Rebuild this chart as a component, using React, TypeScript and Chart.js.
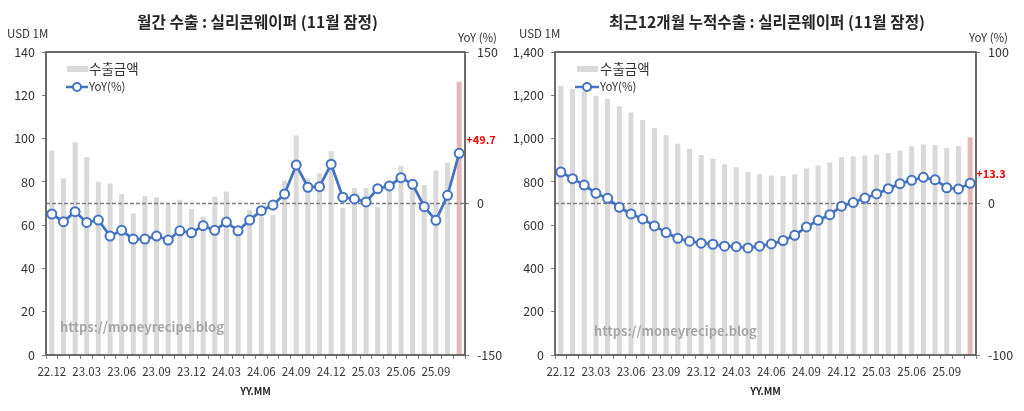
import { useEffect, useRef } from 'react';
import { Chart, registerables } from 'chart.js';
Chart.register(...registerables);

const FONT = "'Noto Sans CJK KR', 'Noto Sans', sans-serif";

const MONTHS = [
  '22.12',
  '23.01', '23.02', '23.03', '23.04', '23.05', '23.06', '23.07', '23.08', '23.09', '23.10', '23.11', '23.12',
  '24.01', '24.02', '24.03', '24.04', '24.05', '24.06', '24.07', '24.08', '24.09', '24.10', '24.11', '24.12',
  '25.01', '25.02', '25.03', '25.04', '25.05', '25.06', '25.07', '25.08', '25.09', '25.10', '25.11',
];

// Monthly exports (USD 1M)
const MONTHLY_EXPORT = [
  94.5, 81.7, 98.3, 91.5, 80.1, 79.2, 74.4, 65.5, 73.3, 72.9, 69.8, 71.7,
  67.5, 64.0, 73.1, 75.5, 58.0, 67.0, 64.0, 64.9, 80.6, 101.4, 81.7, 84.0,
  94.1, 68.0, 77.2, 77.2, 68.3, 80.0, 87.5, 80.0, 78.6, 85.2, 88.9, 126.2,
];
// Monthly YoY (%)
const MONTHLY_YOY = [
  -10.4, -18.0, -8.1, -18.7, -16.4, -32.2, -26.6, -35.2, -35.2, -32.2, -36.2, -27.0,
  -29.0, -22.0, -26.6, -18.4, -27.0, -16.4, -7.1, -1.5, 9.4, 38.2, 16.1, 16.7,
  38.9, 6.2, 4.5, 1.5, 14.7, 17.4, 25.6, 19.0, -3.2, -16.7, 8.1, 49.7,
];

// Trailing 12-month cumulative exports (USD 1M)
const CUM_EXPORT = [
  1244, 1229, 1218, 1198, 1184, 1149, 1121, 1086, 1049, 1015, 976, 953,
  924, 907, 881, 867, 846, 835, 829, 827, 835, 862, 876, 889,
  915, 918, 922, 926, 933, 944, 964, 973, 970, 958, 966, 1006,
];
// Trailing 12-month YoY (%)
const CUM_YOY = [
  20.8, 16.4, 12.2, 6.7, 3.4, -2.5, -6.9, -10.2, -14.8, -19.2, -23.0, -24.9,
  -26.2, -26.9, -28.2, -28.5, -29.3, -28.2, -26.7, -24.5, -21.0, -15.5, -11.1, -7.4,
  -1.8, 0.6, 3.6, 6.3, 9.8, 13.1, 15.3, 17.3, 15.7, 10.4, 9.6, 13.3,
];

const LEFT_TICKS_MONTHLY = { min: 0, max: 140, step: 20 };
const RIGHT_TICKS_MONTHLY = { min: -150, max: 150, step: 150 };
const LEFT_TICKS_CUM = { min: 0, max: 1400, step: 200 };
const RIGHT_TICKS_CUM = { min: -100, max: 100, step: 100 };

const TITLE_MONTHLY = '월간 수출 : 실리콘웨이퍼 (11월 잠정)';
const TITLE_CUM = '최근12개월 누적수출 : 실리콘웨이퍼 (11월 잠정)';
const LABEL_MONTHLY = '+49.7';
const LABEL_CUM = '+13.3';

const GREY = '#d9d9d9';
const PINK = '#e6b9b8';
const BLUE = '#4472c4';
const TEXT = '#333333';

type Spec = {
  title: string; titleCx: number; titleW: number;
  bars: number[]; yoy: number[];
  left: { min: number; max: number; step: number };
  right: { min: number; max: number; step: number };
  yWidth: number; y1Width: number; comma: boolean;
  yoyRight: number;
  lg: { rectX: number; textX: number; lineX1: number; lineX2: number; circleX: number };
  wmX: number; wmY: number; wmW: number;
  xTitleCx: number;
  lastLabel: string; labelDx: number; labelDy: number;
};

function fitFont(ctx: CanvasRenderingContext2D, text: string, weight: string, targetW: number) {
  ctx.font = `${weight} 14px ${FONT}`;
  const w = ctx.measureText(text).width;
  const size = (14 * targetW) / w;
  ctx.font = `${weight} ${size}px ${FONT}`;
}

function makePlugin(spec: Spec) {
  return {
    id: 'overlay',
    afterDatasetDraw(chart: any, args: any) {
      if (args.index !== 1) return;
      const { ctx, chartArea } = chart;
      const y = chart.scales.y1.getPixelForValue(0);
      ctx.save();
      ctx.strokeStyle = '#7f7f7f';
      ctx.lineWidth = 1.5;
      ctx.setLineDash([4, 2]);
      ctx.beginPath();
      ctx.moveTo(chartArea.left, y);
      ctx.lineTo(chartArea.right, y);
      ctx.stroke();
      ctx.restore();
    },
    afterDraw(chart: any) {
      const { ctx, chartArea } = chart;
      ctx.save();
      // plot box
      ctx.strokeStyle = '#595959';
      ctx.lineWidth = 1.75;
      ctx.strokeRect(chartArea.left, chartArea.top, chartArea.right - chartArea.left, chartArea.bottom - chartArea.top);

      ctx.textBaseline = 'middle';
      // title
      ctx.fillStyle = '#262626';
      fitFont(ctx, spec.title, 'bold', spec.titleW);
      ctx.textAlign = 'center';
      ctx.fillText(spec.title, spec.titleCx, 22.5);

      // unit labels
      ctx.fillStyle = TEXT;
      ctx.font = `11.5px ${FONT}`;
      ctx.textAlign = 'left';
      ctx.fillText('USD 1M', 7, 34);
      ctx.textAlign = 'right';
      ctx.fillText('YoY (%)', spec.yoyRight, 38);

      // x axis title
      ctx.font = `bold 10px ${FONT}`;
      ctx.textAlign = 'center';
      ctx.fillStyle = '#262626';
      ctx.fillText('YY.MM', spec.xTitleCx, 391);

      // legend
      const lg = spec.lg;
      ctx.fillStyle = GREY;
      ctx.fillRect(lg.rectX, 66, 21, 6);
      ctx.fillStyle = TEXT;
      ctx.textAlign = 'left';
      ctx.font = `13.5px ${FONT}`;
      ctx.fillText('수출금액', lg.textX, 69);
      ctx.strokeStyle = BLUE;
      ctx.lineWidth = 2.5;
      ctx.beginPath();
      ctx.moveTo(lg.lineX1, 87);
      ctx.lineTo(lg.lineX2, 87);
      ctx.stroke();
      ctx.beginPath();
      ctx.arc(lg.circleX, 87, 4, 0, Math.PI * 2);
      ctx.fillStyle = '#ffffff';
      ctx.fill();
      ctx.lineWidth = 2;
      ctx.stroke();
      ctx.fillStyle = TEXT;
      ctx.font = `11.5px ${FONT}`;
      ctx.fillText('YoY(%)', lg.textX, 87);

      // watermark
      ctx.fillStyle = '#a6a6a6';
      fitFont(ctx, 'https://moneyrecipe.blog', 'bold', spec.wmW);
      ctx.textAlign = 'left';
      ctx.fillText('https://moneyrecipe.blog', spec.wmX, spec.wmY);

      // last value label
      const meta = chart.getDatasetMeta(0);
      const pt = meta.data[meta.data.length - 1];
      ctx.fillStyle = '#ff0000';
      ctx.font = `bold 11px ${FONT}`;
      ctx.textAlign = 'left';
      ctx.fillText(spec.lastLabel, pt.x + spec.labelDx, pt.y + spec.labelDy);
      ctx.restore();
    },
  };
}

function makeConfig(spec: Spec): any {
  const last = spec.bars.length - 1;
  return {
    type: 'bar',
    data: {
      labels: MONTHS,
      datasets: [
        {
          type: 'line',
          label: 'YoY(%)',
          data: spec.yoy,
          yAxisID: 'y1',
          order: 1,
          borderColor: BLUE,
          borderWidth: 2.75,
          pointRadius: 4.5,
          pointBorderWidth: 2,
          pointBackgroundColor: '#ffffff',
          pointBorderColor: BLUE,
          tension: 0,
        },
        {
          type: 'bar',
          label: '수출금액',
          data: spec.bars,
          yAxisID: 'y',
          order: 2,
          backgroundColor: spec.bars.map((_, i) => (i === last ? PINK : GREY)),
          categoryPercentage: 1,
          barPercentage: 0.43,
        },
      ],
    },
    options: {
      responsive: false,
      animation: false,
      layout: { padding: { top: 52, left: 0, right: 0, bottom: 0 } },
      plugins: { legend: { display: false }, title: { display: false }, tooltip: { enabled: false } },
      scales: {
        x: {
          type: 'category',
          offset: true,
          grid: { display: true, drawOnChartArea: false, drawTicks: true, tickLength: 4, color: '#808080', offset: true },
          border: { display: false },
          ticks: {
            autoSkip: false,
            maxRotation: 0,
            minRotation: 0,
            padding: 6,
            color: TEXT,
            font: { size: 11.5, family: FONT },
            callback: (_v: any, i: number) => (i % 3 === 0 ? MONTHS[i] : ''),
          },
          afterFit: (s: any) => { s.height = 56; },
        },
        y: {
          position: 'left',
          min: spec.left.min,
          max: spec.left.max,
          grid: { display: true, drawOnChartArea: false, drawTicks: true, tickLength: 4, color: '#808080' },
          border: { display: false },
          ticks: {
            stepSize: spec.left.step,
            padding: 7,
            color: TEXT,
            font: { size: 12.5, family: FONT },
            callback: (v: number) => (spec.comma ? v.toLocaleString('en-US') : String(v)),
          },
          afterFit: (s: any) => { s.width = spec.yWidth; },
        },
        y1: {
          position: 'right',
          min: spec.right.min,
          max: spec.right.max,
          grid: { display: true, drawOnChartArea: false, drawTicks: true, tickLength: 4, color: '#808080' },
          border: { display: false },
          ticks: {
            stepSize: spec.right.step,
            padding: 8,
            color: TEXT,
            font: { size: 12.5, family: FONT },
          },
          afterFit: (s: any) => { s.width = spec.y1Width; },
        },
      },
    },
    plugins: [makePlugin(spec)],
  };
}

const SPEC_MONTHLY: Spec = {
  title: TITLE_MONTHLY, titleCx: 257.5, titleW: 241,
  bars: MONTHLY_EXPORT, yoy: MONTHLY_YOY,
  left: LEFT_TICKS_MONTHLY, right: RIGHT_TICKS_MONTHLY,
  yWidth: 46, y1Width: 47, comma: false,
  yoyRight: 497,
  lg: { rectX: 67, textX: 89, lineX1: 66, lineX2: 88, circleX: 77 },
  wmX: 60, wmY: 327, wmW: 164,
  xTitleCx: 255.5,
  lastLabel: LABEL_MONTHLY, labelDx: 7, labelDy: -13,
};

const SPEC_CUM: Spec = {
  title: TITLE_CUM, titleCx: 255, titleW: 316,
  bars: CUM_EXPORT, yoy: CUM_YOY,
  left: LEFT_TICKS_CUM, right: RIGHT_TICKS_CUM,
  yWidth: 43, y1Width: 48, comma: true,
  yoyRight: 496,
  lg: { rectX: 65, textX: 88, lineX1: 63, lineX2: 87, circleX: 75 },
  wmX: 82, wmY: 331.5, wmW: 163,
  xTitleCx: 253.5,
  lastLabel: LABEL_CUM, labelDx: 6, labelDy: -10,
};

function ChartCanvas({ spec }: { spec: Spec }) {
  const ref = useRef<HTMLCanvasElement | null>(null);
  useEffect(() => {
    if (!ref.current) return;
    const chart = new Chart(ref.current, makeConfig(spec));
    return () => chart.destroy();
  }, [spec]);
  return <canvas ref={ref} width={512} height={411} style={{ display: 'block', width: 512, height: 411 }} />;
}

export default function App() {
  return (
    <div style={{ position: 'absolute', left: 0, top: 0, width: 1024, height: 411, background: '#ffffff', display: 'flex' }}>
      <ChartCanvas spec={SPEC_MONTHLY} />
      <ChartCanvas spec={SPEC_CUM} />
    </div>
  );
}
